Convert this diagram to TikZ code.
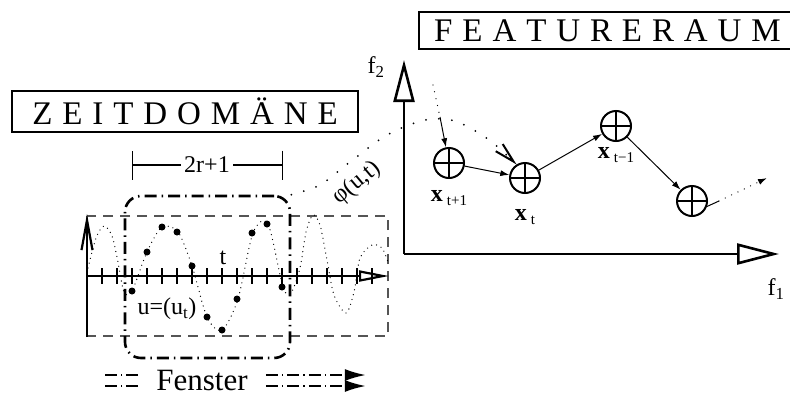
\documentclass[tikz,border=0pt]{standalone}
\usepackage{fontspec}
\setmainfont{Liberation Serif}
\usepackage{tikz}
\usetikzlibrary{arrows.meta, positioning}
\definecolor{mydark}{RGB}{0,0,0}
\definecolor{mygray}{RGB}{85,85,85}
\newcommand{\fvec}[1]{\textbf{x}\,\raisebox{-0.4ex}{\fontsize{15}{15}\selectfont #1}}
\tikzset{
  titlebox/.style={rectangle, draw=mydark, line width=1.3pt, inner sep=0pt,
    font={\fontsize{33}{36}\selectfont\spaceskip=0.3em\relax}},
  frame/.style={draw=mygray, line width=1.4pt, dash pattern=on 10pt off 7pt},
  timeaxis/.style={draw=mydark, line width=2.2pt},
  tick/.style={draw=mydark, line width=1.2pt},
  signal/.style={draw=mydark, line width=1.3pt, line cap=round, dash pattern=on 0pt off 5pt},
  window/.style={rectangle, draw=mydark, line width=2.6pt, rounded corners=16pt,
    dash pattern=on 12pt off 5pt on 1.5pt off 5pt},
  bracket/.style={draw=mydark, line width=1.3pt},
  slide/.style={draw=mydark, line width=2pt, dash pattern=on 12pt off 4pt on 1.5pt off 4pt},
  feataxis/.style={draw=mydark, line width=2.6pt, -{Triangle[open, length=42pt, width=21pt]}},
  feat/.style={circle, draw=mydark, line width=2pt, minimum size=30pt, inner sep=0pt,
    path picture={\draw[line width=2pt]
      (path picture bounding box.north) -- (path picture bounding box.south)
      (path picture bounding box.west) -- (path picture bounding box.east);}},
  featlabel/.style={inner sep=0pt},
  flow/.style={draw=mydark, line width=1pt, -{Latex[length=9pt, width=6pt]}},
  trail/.style={draw=mydark, line width=1.3pt, line cap=round, dash pattern=on 0pt off 7pt},
  mapping/.style={draw=mydark, line width=2pt, line cap=round, dash pattern=on 0pt off 13pt}
}

\begin{document}
\begin{tikzpicture}[x=1pt, y=-1pt, font=\fontsize{24}{26}\selectfont]
  \useasboundingbox (0,0) rectangle (790,394);

  % time domain
  \node[titlebox, minimum width=346pt, minimum height=41pt] (zeit) at (185,111.5) {Z E I T D O M Ä N E};
  \draw[frame] (87,216) rectangle (388,336);

  \coordinate (ubot) at (87,337);
  \coordinate (utop) at (87,214);
  \coordinate (t0) at (87,276);
  \coordinate (tend) at (389,276);
  \draw[timeaxis, -{Straight Barb[length=30pt, width=11pt]}] (ubot) -- (utop);
  \draw[timeaxis, -{Triangle[open, length=30pt, width=11pt]}] (t0) -- (tend);
  \foreach \k in {0,...,18}
    \draw[tick] (102+15*\k,268) -- (102+15*\k,284);

  \draw[signal] plot[smooth] coordinates {(88,268) (96,238) (104,226) (112,236) (118,262)
    (124,292) (132,291) (147,252) (162,227) (178,232) (192,266) (207,317) (222,330)
    (238,299) (253,233) (268,224) (283,287) (291,293) (300,268) (306,232) (313,215)
    (320,225) (327,260) (334,295) (346,313) (354,292) (360,258) (372,245) (382,248) (388,262)};
  \foreach \yy [count=\k from 0] in {291,252,227,232,266,317,330,299,233,224,287}
    \fill[mydark] (132+15*\k,\yy) circle (3.5);

  \node[window, minimum width=165pt, minimum height=162pt] (win) at (207.5,277) {};

  \node (span) at (207,165) {2r+1};
  \coordinate (spanl) at (132,165);
  \coordinate (spanr) at (283,165);
  \draw[bracket, {Bar[width=29pt]}-] (spanl) -- (span);
  \draw[bracket, -{Bar[width=29pt]}] (span) -- (spanr);

  \node (tlab) at (223,258) {t};
  \node (ulab) at (167,309) {u=(u\textsubscript{t})};

  \node[inner sep=0pt, font=\fontsize{31}{31}\selectfont] (fenster) at (202,380) {Fenster};
  \draw[slide] ([xshift=-18pt, yshift=5pt]fenster.west) -- ++(-35,0);
  \draw[slide] ([xshift=-18pt, yshift=-6pt]fenster.west) -- ++(-35,0);
  \draw[slide, -{Latex[length=21pt, width=12pt]}] ([xshift=18pt, yshift=5pt]fenster.east) -- ++(100,0);
  \draw[slide, -{Latex[length=21pt, width=12pt]}] ([xshift=18pt, yshift=-6pt]fenster.east) -- ++(100,0);

  % feature space
  \node[titlebox, minimum width=377pt, minimum height=37pt] (feature) at (607.5,30.5) {F E A T U R E R A U M};
  \coordinate (orig) at (404,254);
  \coordinate (f2tip) at (404,60);
  \coordinate (f1tip) at (779,254);
  \draw[feataxis] (orig) -- (f2tip);
  \draw[feataxis] (orig) -- (f1tip);
  \node (f2lab) at (376,67) {f\textsubscript{2}};
  \node (f1lab) at (776,289) {f\textsubscript{1}};

  \node[feat] (xtp) at (449,163) {};
  \node[feat] (xt) at (525,178) {};
  \node[feat] (xtm) at (616,126) {};
  \node[feat] (xtmm) at (692,201) {};
  \node[featlabel, below=11pt of xtp] {\fvec{t+1}};
  \node[featlabel, below=15pt of xt] {\fvec{t}};
  \node[featlabel, below=5pt of xtm] {\fvec{t−1}};

  \coordinate (from) at (433,85);
  \coordinate (into) at (440,117);
  \draw[trail] (from) -- (into);
  \draw[flow] (into) -- (xtp);
  \draw[flow] (xtp) -- (xt);
  \draw[flow] (xt) -- (xtm);
  \draw[flow] (xtm) -- (xtmm);
  \coordinate (away) at (719,201);
  \coordinate (beyond) at (767,178);
  \draw[draw=mydark, line width=1pt] (xtmm.-20) -- (away);
  \draw[trail, -{Latex[length=9pt, width=6pt]}] (away) -- (beyond);

  % mapping into the feature space
  \draw[mapping, -{Straight Barb[length=20pt, width=10pt]}] plot[smooth] coordinates
    {(win.north east) (320,185) (350,162) (387,135) (425,120) (455,121) (488,139) (xt.122)};
  \node[rotate=40] (philab) at (357,183) {φ(u,t)};
\end{tikzpicture}
\end{document}
